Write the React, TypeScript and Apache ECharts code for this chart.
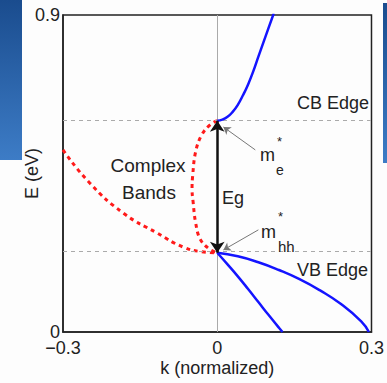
import React, { useEffect, useRef } from "react";
import * as echarts from "echarts";

// Conduction band (blue)
const cbK = [0, 0.01, 0.02, 0.03, 0.04, 0.05, 0.06, 0.07, 0.08, 0.09, 0.1, 0.11];
const cbE = [0.6, 0.603, 0.611, 0.625, 0.645, 0.672, 0.703, 0.74, 0.782, 0.823, 0.864, 0.905];
// Heavy-hole valence band (blue)
const hhK = [0, 0.04, 0.08, 0.12, 0.16, 0.2, 0.24, 0.28, 0.295];
const hhE = [0.225, 0.215, 0.198, 0.176, 0.15, 0.118, 0.08, 0.03, 0.0];
// Light-hole valence band (blue)
const lhK = [0, 0.02, 0.04, 0.06, 0.08, 0.1, 0.12, 0.127];
const lhE = [0.225, 0.192, 0.158, 0.122, 0.085, 0.048, 0.012, 0.0];
// Complex band loop (red dotted)
const loopK = [0, -0.014, -0.03, -0.042, -0.048, -0.049, -0.047, -0.042, -0.033, -0.014, 0];
const loopE = [0.6, 0.588, 0.56, 0.512, 0.44, 0.405, 0.37, 0.31, 0.263, 0.234, 0.225];
// Complex band tail (red dotted)
const tailK = [-0.3, -0.248, -0.183, -0.117, -0.066, -0.03, 0];
const tailE = [0.517, 0.423, 0.338, 0.281, 0.241, 0.228, 0.225];
// Band edges
const cbEdge = 0.6;
const vbEdge = 0.225;
// Effective mass pointer arrows [start, tip]
const meArrow = [[0.074, 0.517], [0.012, 0.582]];
const mhhArrow = [[0.08, 0.29], [0.012, 0.233]];

const xTicks = { min: -0.3, max: 0.3, interval: 0.3 };
const yTicks = { min: 0, max: 0.9, interval: 0.9 };

const zip = (a: number[], b: number[]) => a.map((v, i) => [v, b[i]]);

const FONT = "Liberation Sans";
const TXT = "#222";

export default function App() {
  const ref = useRef<HTMLDivElement>(null);
  useEffect(() => {
    if (!ref.current) return;
    const chart = echarts.init(ref.current, null, { renderer: "svg" });
    const blue = { color: "#1414ff", width: 2.5 };
    const red = { color: "#ff1a1a", width: 3, type: [4, 4] as any };
    const txt = (text: string, x: number, y: number, size: number, align = "left") => ({
      type: "text",
      x,
      y,
      z: 100,
      style: { text, fill: TXT, fontSize: size, fontFamily: FONT, align, verticalAlign: "middle" },
    });
    chart.setOption({
      animation: false,
      backgroundColor: "#fdfdfd",
      grid: {
        left: 63,
        right: 15,
        top: 15,
        bottom: 51,
        show: true,
        borderColor: "#222",
        borderWidth: 1.5,
        backgroundColor: "transparent",
      },
      xAxis: {
        type: "value",
        ...xTicks,
        name: "k (normalized)",
        nameLocation: "middle",
        nameGap: 27,
        nameMoveOverlap: false,
        nameTextStyle: { fontSize: 18, fontFamily: FONT, color: TXT },
        axisLine: { onZero: false, lineStyle: { color: "#222", width: 1.5 } },
        axisTick: { show: false },
        splitLine: { show: false },
        axisLabel: {
          fontSize: 18,
          fontFamily: FONT,
          color: TXT,
          margin: 7,
          showMinLabel: true,
          showMaxLabel: true,
          formatter: (v: number) => (v < 0 ? "\u2212" + Math.abs(v) : String(v)),
        },
      },
      yAxis: {
        type: "value",
        ...yTicks,
        name: "E (eV)",
        nameLocation: "middle",
        nameGap: 22,
        nameMoveOverlap: false,
        nameTextStyle: { fontSize: 18, fontFamily: FONT, color: TXT },
        axisLine: { onZero: false, lineStyle: { color: "#222", width: 1.5 } },
        axisTick: { show: false },
        splitLine: { show: false },
        axisLabel: { fontSize: 18, fontFamily: FONT, color: TXT, margin: 3, showMinLabel: true, showMaxLabel: true },
      },
      series: [
        {
          type: "line",
          data: [],
          silent: true,
          markLine: {
            silent: true,
            symbol: ["none", "none"],
            label: { show: false },
            data: [
              { yAxis: cbEdge, lineStyle: { color: "#aaa", width: 1, type: [4, 4] } },
              { yAxis: vbEdge, lineStyle: { color: "#aaa", width: 1, type: [4, 4] } },
              { xAxis: 0, lineStyle: { color: "#aaa", width: 1, type: "solid" } },
            ],
          },
        },
        { type: "line", data: zip(cbK, cbE), showSymbol: false, smooth: true, lineStyle: blue, z: 5 },
        { type: "line", data: zip(hhK, hhE), showSymbol: false, smooth: true, lineStyle: blue, z: 5 },
        { type: "line", data: zip(lhK, lhE), showSymbol: false, smooth: true, lineStyle: blue, z: 5 },
        { type: "line", data: zip(loopK, loopE), showSymbol: false, smooth: 0.4, lineStyle: red, z: 4 },
        { type: "line", data: zip(tailK, tailE), showSymbol: false, smooth: true, lineStyle: red, z: 4 },
        {
          type: "lines",
          coordinateSystem: "cartesian2d",
          symbol: ["arrow", "arrow"],
          symbolSize: 11,
          lineStyle: { color: "#111", width: 2.5, opacity: 1 },
          data: [{ coords: [[0, vbEdge], [0, cbEdge]] }],
          z: 6,
        },
        {
          type: "lines",
          coordinateSystem: "cartesian2d",
          symbol: ["none", "arrow"],
          symbolSize: 7,
          lineStyle: { color: "#777", width: 1, opacity: 1 },
          data: [{ coords: meArrow }, { coords: mhhArrow }],
          z: 6,
        },
      ],
      graphic: [
        {
          type: "rect",
          shape: { x: 0, y: 0, width: 22, height: 160 },
          z: -10,
          style: {
            fill: new echarts.graphic.LinearGradient(0, 0, 0, 1, [
              { offset: 0, color: "#1a4c8e" },
              { offset: 1, color: "#3d7cc6" },
            ]),
          },
        },
        {
          type: "rect",
          shape: { x: 383, y: 3, width: 4, height: 160 },
          z: -10,
          style: {
            fill: new echarts.graphic.LinearGradient(0, 0, 0, 1, [
              { offset: 0, color: "#1a4c8e" },
              { offset: 1, color: "#3d7cc6" },
            ]),
          },
        },
        txt("CB Edge", 297, 103, 18),
        txt("VB Edge", 297, 270, 18),
        txt("Complex", 148, 165, 19, "center"),
        txt("Bands", 149, 192, 19, "center"),
        txt("Eg", 222, 198, 18),
        txt("m", 260, 155, 18),
        txt("*", 277, 141, 13),
        txt("e", 276, 170, 14),
        txt("m", 261, 232, 18),
        txt("*", 278, 216, 13),
        txt("hh", 278, 246, 15),
      ],
    });
    return () => chart.dispose();
  }, []);
  return <div ref={ref} style={{ position: "fixed", left: 0, top: 0, width: 387, height: 383 }} />;
}
